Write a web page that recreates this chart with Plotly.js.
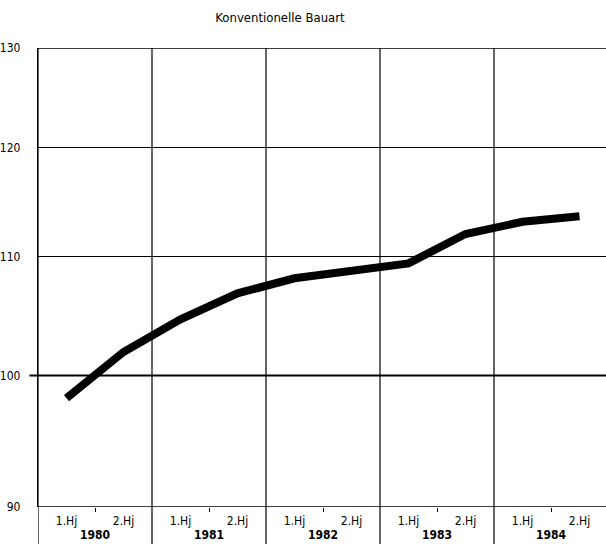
<!DOCTYPE html>
<html>
<head>
<meta charset="utf-8">
<script src="https://cdn.plot.ly/plotly-3.0.1.min.js"></script>
<style>
html,body{margin:0;padding:0;background:#fff;overflow:hidden;}
#chart{width:606px;height:544px;}
</style>
</head>
<body>
<div id="chart"></div>
<script>
// Data
const years = ["1980", "1981", "1982", "1983", "1984"];
const halfYears = ["1.Hj", "2.Hj"];
const indexValues = [98.2, 101.9, 104.6, 106.8, 108.1, 108.7, 109.4, 112.0, 113.1, 113.6];
const yTicks = [90, 100, 110, 120, 130];
const chartTitle = "Konventionelle Bauart";

// Derived positions (year index units)
const xPos = [];
const hjVals = [];
const hjText = [];
years.forEach((y, i) => {
  halfYears.forEach((h, j) => {
    const p = i + 0.25 + 0.5 * j;
    xPos.push(p);
    hjVals.push(p);
    hjText.push(h);
  });
});
const yearCenters = years.map((y, i) => i + 0.5);

const FONT = "'DejaVu Sans Condensed', 'Liberation Sans Narrow', 'Arial Narrow', sans-serif";
const xRange = [0, 5 * 568 / 570];

const shapes = [];
for (let i = 0; i < years.length; i++) {
  shapes.push({type: 'line', xref: 'x', yref: 'paper', x0: i, x1: i, y0: -0.085, y1: 1,
    line: {color: '#000', width: 1.2}});
}
// emphasised 100 reference line
shapes.push({type: 'line', xref: 'paper', yref: 'y', x0: -0.015, x1: 1, y0: 100, y1: 100,
  line: {color: '#000', width: 2}});
// top border and baseline
shapes.push({type: 'line', xref: 'paper', yref: 'y', x0: 0, x1: 1, y0: yTicks[yTicks.length - 1], y1: yTicks[yTicks.length - 1],
  line: {color: '#000', width: 1.6}});
shapes.push({type: 'line', xref: 'paper', yref: 'y', x0: 0, x1: 1, y0: yTicks[0], y1: yTicks[0],
  line: {color: '#000', width: 1.4}});

const traces = [
  {x: xPos, y: indexValues, type: 'scatter', mode: 'lines',
   line: {color: '#000', width: 8}, hoverinfo: 'skip', showlegend: false},
  {x: yearCenters, y: yearCenters.map(() => 100), xaxis: 'x2', type: 'scatter', mode: 'markers',
   marker: {opacity: 0}, hoverinfo: 'skip', showlegend: false}
];

const layout = {
  width: 606, height: 544,
  margin: {l: 38, r: 0, t: 48, b: 37},
  paper_bgcolor: '#fff', plot_bgcolor: '#fff',
  font: {family: FONT, color: '#000', size: 12},
  title: {text: chartTitle, font: {family: FONT, size: 13, color: '#000'},
          x: 280 / 606, xref: 'container', xanchor: 'center', y: 1 - 17 / 544, yref: 'container', yanchor: 'middle'},
  xaxis: {range: xRange, tickvals: hjVals, ticktext: hjText, ticks: '', showgrid: false,
          zeroline: false, showline: false, tickfont: {size: 12, family: FONT}, ticklabelstandoff: 5, fixedrange: true},
  xaxis2: {overlaying: 'x', side: 'bottom', range: xRange, tickvals: yearCenters, ticktext: years,
           ticks: 'outside', ticklen: 4, tickcolor: '#000', tickwidth: 1, showgrid: false, zeroline: false,
           showline: false, tickfont: {size: 12, family: FONT, weight: 'bold'}, ticklabelstandoff: 13, fixedrange: true},
  yaxis: {type: 'log', range: [Math.log10(90), Math.log10(130)], tickvals: yTicks,
          ticktext: yTicks.map(String), showgrid: true, gridcolor: '#000', gridwidth: 1,
          zeroline: false, showline: true, linecolor: '#000', linewidth: 1.2, ticks: '',
          tickfont: {size: 12, family: FONT}, ticklabelstandoff: 14, fixedrange: true},
  shapes: shapes
};

Plotly.newPlot('chart', traces, layout, {displayModeBar: false, staticPlot: true});
</script>
</body>
</html>
